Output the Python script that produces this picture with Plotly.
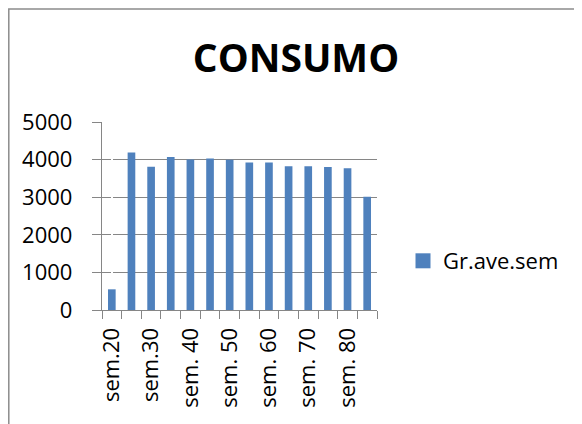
import plotly.graph_objects as go

categories = ["sem.20", "sem.25", "sem.30", "sem.35", "sem. 40", "sem. 45", "sem. 50",
              "sem. 55", "sem. 60", "sem. 65", "sem. 70", "sem. 75", "sem. 80", "sem. 85"]
values = [550, 4190, 3810, 4070, 4000, 4030, 3995, 3920, 3920, 3820, 3820, 3800, 3770, 3010]
shown_labels = categories[::2]
series_name = "Gr.ave.sem"
title_text = "CONSUMO"
y_ticks = [0, 1000, 2000, 3000, 4000, 5000]

FONT = "Open Sans, Calibri, sans-serif"
GRID = "#868686"
BAR = "#4F81BD"

OFF = 8  # page body margin
L, R, T, B = 102 - OFF, 377 - OFF, 122 - OFF, 310 - OFF  # plot area in figure pixels
W, H = 574, 416

def px(x):
    return (x - OFF - L) / (R - L)

def py(y):
    return (B - (y - OFF)) / (B - T)

fig = go.Figure()
fig.add_trace(go.Bar(x=categories, y=values, name=series_name, showlegend=False,
                     legendgroup="s", marker=dict(color=BAR, line=dict(width=0))))
# legend entry with a larger square glyph, like the original chart
fig.add_trace(go.Scatter(x=[None], y=[None], name=series_name, mode="markers",
                         legendgroup="s",
                         marker=dict(symbol="square", size=15, color=BAR)))
# invisible trace on overlay axis so boundary ticks render
fig.add_trace(go.Scatter(x=[-0.5, len(categories) - 0.5], y=[0, 0], xaxis="x2",
                         mode="markers", marker=dict(opacity=0), showlegend=False,
                         hoverinfo="skip"))

fig.update_layout(
    width=W, height=H,
    margin=dict(l=L, r=W - R, t=T, b=H - B, autoexpand=False),
    paper_bgcolor="white", plot_bgcolor="white",
    font=dict(family=FONT, size=22, color="black"),
    title=dict(text="<b>" + title_text + "</b>", font=dict(family=FONT, size=39, color="black"),
               x=(296 - OFF) / W, xanchor="center", y=1 - (58 - OFF) / H, yanchor="middle",
               automargin=False),
    bargap=0.61,
    showlegend=True,
    legend=dict(x=px(403), y=py(261), xanchor="left", yanchor="middle",
                font=dict(family=FONT, size=22, color="black"),
                bgcolor="rgba(0,0,0,0)", itemsizing="trace", itemwidth=30),
    xaxis=dict(type="category", categoryorder="array", categoryarray=categories,
               range=[-0.5, len(categories) - 0.5], automargin=False,
               tickmode="array", tickvals=shown_labels, ticktext=shown_labels,
               tickangle=-90, ticks="", showgrid=False, showline=True,
               linecolor=GRID, linewidth=1.3, ticklabelstandoff=8,
               tickfont=dict(family=FONT, size=22, color="black")),
    xaxis2=dict(overlaying="x", range=[-0.5, len(categories) - 0.5], automargin=False,
                tickmode="array", tickvals=[i - 0.5 for i in range(len(categories) + 1)],
                ticks="outside", ticklen=8, tickcolor=GRID, tickwidth=1.3,
                showticklabels=False, showgrid=False, showline=False, side="bottom",
                anchor="y", fixedrange=True),
    yaxis=dict(range=[0, 5000], tickmode="array", tickvals=y_ticks, automargin=False,
               ticks="outside", ticklen=9, tickcolor=GRID, tickwidth=1.3,
               showgrid=True, gridcolor=GRID, gridwidth=1.3,
               showline=True, linecolor=GRID, linewidth=1.3, zeroline=False,
               ticklabelstandoff=15,
               tickfont=dict(family=FONT, size=22, color="black")),
    shapes=[dict(type="rect", xref="paper", yref="paper",
                 x0=px(OFF + 0.8), x1=px(620), y0=py(460), y1=py(9),
                 line=dict(color="#8c8c8c", width=1.5), fillcolor="rgba(0,0,0,0)",
                 layer="below")],
)

fig.write_html("out.html")
